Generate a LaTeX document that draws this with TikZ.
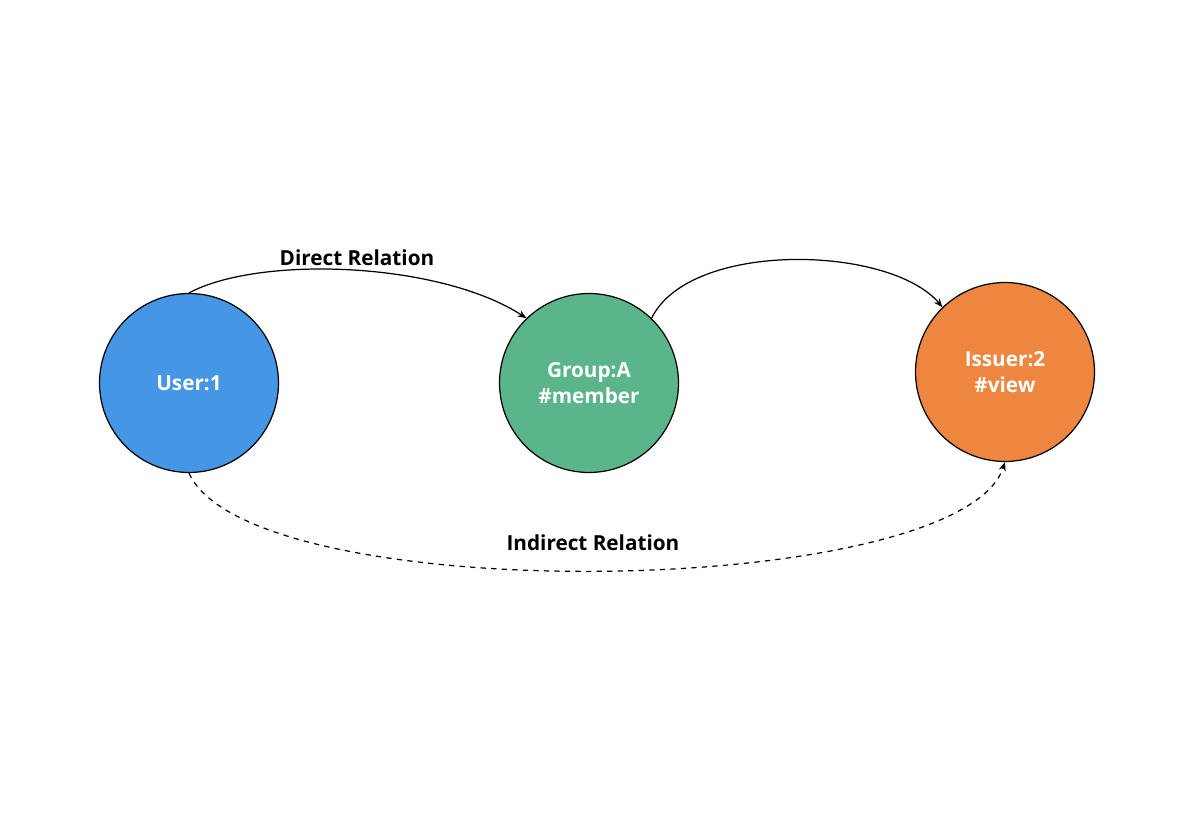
\documentclass[tikz,border=0pt]{standalone}
\usepackage{fontspec}
\setmainfont{Open Sans}
\usetikzlibrary{arrows.meta}
\definecolor{userblue}{HTML}{4596E5}
\definecolor{groupgreen}{HTML}{5BB58A}
\definecolor{issueorange}{HTML}{EE8640}

\begin{document}
\begin{tikzpicture}[x=0.02cm, y=-0.02cm,
    ent/.style={circle, draw=black, line width=0.7pt, minimum size=3.58cm,
        text=white, font=\bfseries\fontsize{11.8}{14.6}\selectfont, align=center, inner sep=0pt},
    rel/.style={line width=0.7pt, -{Stealth[length=5pt, width=4pt]}},
    lbl/.style={font=\bfseries\fontsize{11.8}{14.6}\selectfont}]
    \useasboundingbox (0,0) rectangle (1200,830);
    \node[ent, fill=userblue] (user) at (189,383) {User:1};
    \node[ent, fill=groupgreen] (group) at (589,383) {Group:A\\\#member};
    \node[ent, fill=issueorange] (issue) at (1005,372) {Issuer:2\\\#view};

    \draw[rel] (user.90) .. controls (260,255) and (440,262) .. (group.134);
    \draw[rel] (group.46) .. controls (690,240) and (890,245) .. (issue.134);
    \draw[rel, dashed] (user.270) .. controls (250,610) and (960,600) .. (issue.270);

    \node[lbl] (direct) at (357,258) {Direct Relation};
    \node[lbl] (indirect) at (593,543) {Indirect Relation};
\end{tikzpicture}
\end{document}
